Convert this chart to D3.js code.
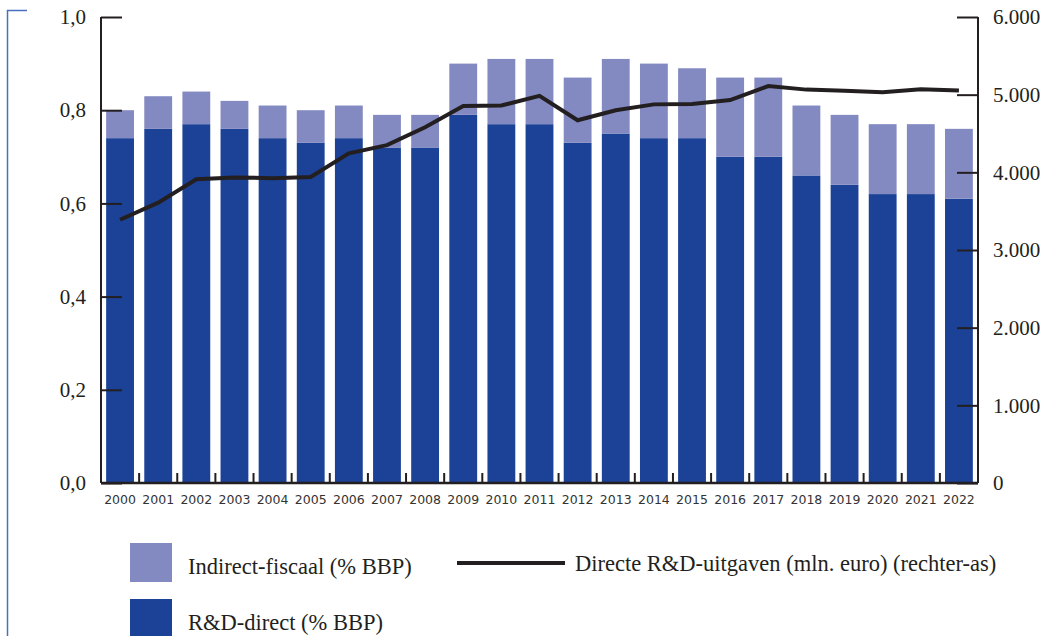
<!DOCTYPE html>
<html>
<head>
<meta charset="utf-8">
<script src="https://cdn.jsdelivr.net/npm/d3@7"></script>
<style>
  body { margin: 0; background: #fff; }
  svg { display: block; }
</style>
</head>
<body>
<div id="chart"></div>
<script>
// data
var years = ["2000","2001","2002","2003","2004","2005","2006","2007","2008","2009","2010",
             "2011","2012","2013","2014","2015","2016","2017","2018","2019","2020","2021","2022"];
var direct = [0.74,0.76,0.77,0.76,0.74,0.73,0.74,0.72,0.72,0.79,0.77,
              0.77,0.73,0.75,0.74,0.74,0.70,0.70,0.66,0.64,0.62,0.62,0.61];
var indirect = [0.06,0.07,0.07,0.06,0.07,0.07,0.07,0.07,0.07,0.11,0.14,
                0.14,0.14,0.16,0.16,0.15,0.17,0.17,0.15,0.15,0.15,0.15,0.15];
var uitgaven = [3390,3610,3910,3935,3925,3940,4245,4350,4580,4855,4860,
                4985,4670,4800,4875,4880,4930,5110,5065,5050,5030,5070,5055];
var leftTicks = [0, 0.2, 0.4, 0.6, 0.8, 1.0];
var rightTicks = [0, 1000, 2000, 3000, 4000, 5000, 6000];

var W = 1053, H = 636;
var margin = {top: 17, right: 75, bottom: 153, left: 101},
    width = W - margin.left - margin.right,
    height = H - margin.top - margin.bottom;

var svg = d3.select("#chart").append("svg")
    .attr("width", W)
    .attr("height", H);

// blue frame at the far left
svg.append("path")
    .attr("d", "M27,10.5H7.5V636")
    .attr("fill", "none")
    .attr("stroke", "#4a6fbf")
    .attr("stroke-width", 1.5);

var g = svg.append("g")
    .attr("transform", "translate(" + margin.left + "," + margin.top + ")");

var x = d3.scaleBand()
    .domain(years)
    .range([0, width])
    .paddingInner(0.27)
    .paddingOuter(0.135);

var y = d3.scaleLinear().domain([0, 1]).range([height, 0]);
var y2 = d3.scaleLinear().domain([0, 6000]).range([height, 0]);

var darkBlue = "#1b4297", lightBlue = "#8389c1", ink = "#231f20";

var rows = years.map(function(yr, i) {
  return {year: yr, direct: direct[i], indirect: indirect[i], uitgaven: uitgaven[i]};
});

var stack = d3.stack().keys(["direct", "indirect"]);
var z = d3.scaleOrdinal().domain(["direct", "indirect"]).range([darkBlue, lightBlue]);

g.selectAll(".serie")
  .data(stack(rows))
  .enter().append("g")
    .attr("class", "serie")
    .attr("fill", function(d) { return z(d.key); })
  .selectAll("rect")
  .data(function(d) { return d; })
  .enter().append("rect")
    .attr("x", function(d) { return x(d.data.year); })
    .attr("y", function(d) { return y(d[1]); })
    .attr("width", x.bandwidth())
    .attr("height", function(d) { return y(d[0]) - y(d[1]); });

// line on the right axis
var line = d3.line()
    .x(function(d) { return x(d.year) + x.bandwidth() / 2; })
    .y(function(d) { return y2(d.uitgaven); });

g.append("path")
    .datum(rows)
    .attr("fill", "none")
    .attr("stroke", ink)
    .attr("stroke-width", 4)
    .attr("stroke-linejoin", "miter")
    .attr("d", line);

// left axis, ticks pointing inward
var axL = g.append("g")
    .call(d3.axisLeft(y).tickValues(leftTicks).tickSize(-21).tickPadding(15)
      .tickFormat(function(d) { return d3.format(".1f")(d).replace(".", ","); }));
axL.select(".domain").attr("stroke", ink).attr("stroke-width", 2).attr("d", "M0,0V" + height);
axL.selectAll(".tick line").attr("stroke", ink).attr("stroke-width", 2);
axL.selectAll("text")
    .attr("fill", "#231f20")
    .style("font-family", "'Liberation Serif', serif")
    .style("font-size", "21px");

// right axis
var axR = g.append("g")
    .attr("transform", "translate(" + width + ",0)")
    .call(d3.axisRight(y2).tickValues(rightTicks).tickSize(-21).tickPadding(15)
      .tickFormat(function(d) { return d3.format(",")(d).replace(/,/g, "."); }));
axR.select(".domain").attr("stroke", ink).attr("stroke-width", 2).attr("d", "M0,0V" + height);
axR.selectAll(".tick line").attr("stroke", ink).attr("stroke-width", 2);
axR.selectAll("text")
    .attr("fill", "#231f20")
    .style("font-family", "'Liberation Serif', serif")
    .style("font-size", "21px");

// bottom axis: line, ticks between bars, year labels
g.append("line")
    .attr("x1", 0).attr("x2", width)
    .attr("y1", height).attr("y2", height)
    .attr("stroke", ink).attr("stroke-width", 2.5);

g.selectAll(".sep")
  .data(years.slice(1))
  .enter().append("line")
    .attr("class", "sep")
    .attr("x1", function(d) { return x(d) - x.step() * x.paddingInner() / 2; })
    .attr("x2", function(d) { return x(d) - x.step() * x.paddingInner() / 2; })
    .attr("y1", height)
    .attr("y2", height - 10)
    .attr("stroke", ink)
    .attr("stroke-width", 2);

g.selectAll(".yr")
  .data(years)
  .enter().append("text")
    .attr("class", "yr")
    .attr("x", function(d) { return x(d) + x.bandwidth() / 2; })
    .attr("y", height + 21)
    .attr("text-anchor", "middle")
    .attr("fill", "#333")
    .style("font-family", "'DejaVu Sans', sans-serif")
    .style("font-size", "12.5px")
    .text(function(d) { return d; });

// legend
var lg = svg.append("g")
    .style("font-family", "'Liberation Serif', serif")
    .style("font-size", "22.5px")
    .attr("fill", "#231f20");

lg.append("rect").attr("x", 130).attr("y", 543).attr("width", 42).attr("height", 39).attr("fill", lightBlue);
lg.append("text").attr("x", 188).attr("y", 574).text("Indirect-fiscaal (% BBP)");

lg.append("rect").attr("x", 130).attr("y", 599).attr("width", 42).attr("height", 39).attr("fill", darkBlue);
lg.append("text").attr("x", 188).attr("y", 630).text("R&D-direct (% BBP)");

lg.append("line").attr("x1", 457).attr("x2", 565).attr("y1", 563).attr("y2", 563)
    .attr("stroke", ink).attr("stroke-width", 4);
lg.append("text").attr("x", 575).attr("y", 571).text("Directe R&D-uitgaven (mln. euro) (rechter-as)");
</script>
</body>
</html>
